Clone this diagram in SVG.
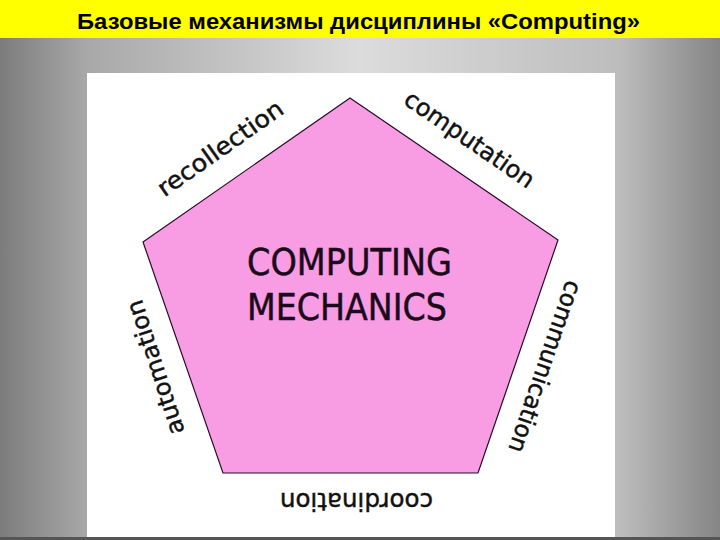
<svg xmlns="http://www.w3.org/2000/svg" width="720" height="540" viewBox="0 0 720 540">
<defs>
<linearGradient id="bg" x1="0" y1="0" x2="1" y2="0">
<stop offset="0" stop-color="#7c7c7c"/>
<stop offset="0.12" stop-color="#a8a8a8"/>
<stop offset="0.5" stop-color="#dcdcdc"/>
<stop offset="0.86" stop-color="#bdbdbd"/>
<stop offset="1" stop-color="#858585"/>
</linearGradient>
</defs>
<style>
.title{font-family:"Liberation Sans",Arial,sans-serif;font-weight:bold;font-size:22px;fill:#000}
.lbl{font-family:"DejaVu Sans","Noto Sans",sans-serif;font-size:24px;fill:#111;stroke:#111;stroke-width:0.45;text-anchor:middle}
.core{font-family:"DejaVu Sans","Noto Sans",sans-serif;font-size:37px;fill:#1a0a1a;stroke:#1a0a1a;stroke-width:0.5}
.pent{fill:#f89ce4;stroke:#2a0a2a;stroke-width:1.2}
</style>
<rect x="0" y="0" width="720" height="540" fill="url(#bg)"/>
<rect x="0" y="537" width="720" height="3" fill="#555"/>
<rect x="0" y="0" width="720" height="38" fill="#ffff00"/>
<text class="title" x="77" y="29" textLength="563" lengthAdjust="spacingAndGlyphs">Базовые механизмы дисциплины «Computing»</text>
<rect x="87" y="73" width="528" height="464" fill="#ffffff"/>
<g id="pentagon">
<polygon class="pent" points="350,98 558,240 478,473 223,473 143,242"/>
<text class="core" x="247" y="275" textLength="205" lengthAdjust="spacingAndGlyphs">COMPUTING</text>
<text class="core" x="247" y="320" textLength="200" lengthAdjust="spacingAndGlyphs">MECHANICS</text>
</g>
<g id="recollection"><text class="lbl" transform="translate(225,155) rotate(-35)" textLength="148" lengthAdjust="spacingAndGlyphs">recollection</text></g>
<g id="computation"><text class="lbl" transform="translate(465,146) rotate(34.5)" textLength="152" lengthAdjust="spacingAndGlyphs">computation</text></g>
<g id="communication"><text class="lbl" transform="translate(537.5,364) rotate(109)" textLength="180" lengthAdjust="spacingAndGlyphs">communication</text></g>
<g id="coordination"><text class="lbl" transform="translate(356.5,493) rotate(180)" textLength="153" lengthAdjust="spacingAndGlyphs">coordination</text></g>
<g id="automation"><text class="lbl" transform="translate(163,365) rotate(-108)" textLength="140" lengthAdjust="spacingAndGlyphs">automation</text></g>
<g id="connectors"></g>
</svg>
